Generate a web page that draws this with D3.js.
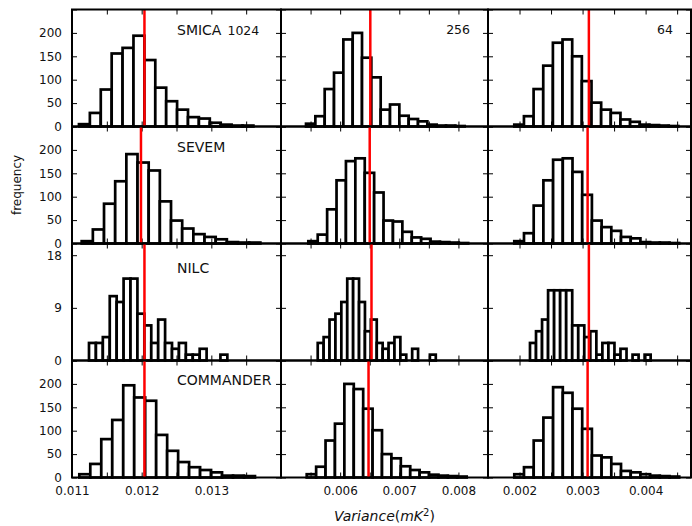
<!DOCTYPE html>
<html><head><meta charset="utf-8">
<script src="https://cdn.jsdelivr.net/npm/d3@7"></script>
<style>
body{margin:0;background:#fff}
svg{display:block}
text{font-family:"DejaVu Sans",sans-serif;fill:#111}
</style>
</head><body>
<svg id="chart" width="692" height="526"></svg>
<script>
// ---------- data ----------
const methods = ["SMICA", "SEVEM", "NILC", "COMMANDER"];
const resolutions = ["1024", "256", "64"];
const xDomains = [[0.011, 0.014], [0.005, 0.0085], [0.0015, 0.00472]];
const xTickLabelValues = [[0.011, 0.012, 0.013], [0.006, 0.007, 0.008], [0.002, 0.003, 0.004]];
const xTickStep = 0.0005;
const countDomain = [0, 250];
const countTicks = [0, 50, 100, 150, 200, 250];
const countTickLabels = [0, 50, 100, 150, 200];
const nilcDomain = [0, 20];
const nilcTicks = [0, 9, 18];

// histogram counts, one array per panel
const smica1024 = [5, 29, 79, 156, 168, 194, 142, 83, 54, 36, 20, 17, 8, 4, 2, 2];
const smica256  = [6, 22, 80, 115, 186, 200, 147, 105, 36, 47, 23, 16, 11, 4, 2, 2, 1];
const smica64   = [4, 22, 80, 130, 179, 186, 150, 97, 51, 36, 29, 15, 10, 4, 3, 2, 1];
const sevem1024 = [5, 30, 85, 133, 191, 173, 156, 90, 49, 32, 20, 14, 9, 3, 2, 2];
const sevem256  = [5, 19, 73, 135, 176, 182, 151, 109, 49, 47, 25, 13, 10, 4, 3, 2, 1];
const sevem64   = [5, 22, 81, 135, 179, 182, 153, 104, 49, 35, 27, 14, 11, 3, 2, 2, 1];
const nilc1024  = [3, 3, 4, 11, 10, 14, 14, 8, 6, 3, 7, 3, 2, 3, 1, 1, 2, 0, 0, 1];
const nilc256   = [3, 4, 7, 8, 10, 14, 14, 10, 5, 7, 3, 2, 3, 4, 1, 0, 2, 0, 0, 1];
const nilc64    = [3, 5, 7, 12, 12, 12, 12, 6, 6, 4, 5, 1, 3, 3, 1, 2, 0, 1, 0, 1];
const commander1024 = [7, 29, 82, 123, 197, 171, 164, 91, 57, 33, 22, 16, 11, 4, 4, 3];
const commander256  = [7, 23, 79, 115, 200, 189, 147, 101, 50, 41, 24, 16, 11, 6, 4, 3, 2];
const commander64   = [7, 22, 79, 128, 193, 181, 147, 104, 47, 43, 29, 14, 11, 7, 4, 3, 2];
const panelCounts = [
  [smica1024, smica256, smica64],
  [sevem1024, sevem256, sevem64],
  [nilc1024, nilc256, nilc64],
  [commander1024, commander256, commander64]
];
// first bin edge and bin width (mK^2) per panel
const binStarts = [
  [0.011100, 0.005423, 0.001917],
  [0.011139, 0.005462, 0.001917],
  [0.011244, 0.005621, 0.002166],
  [0.011105, 0.005435, 0.001917]
];
const binWidths = [
  [0.0001565, 0.0001578, 0.0001531],
  [0.0001603, 0.0001590, 0.0001539],
  [0.0000993, 0.0000998, 0.0000957],
  [0.0001576, 0.0001591, 0.0001539]
];
// observed (red line) variance per panel
const observed = [
  [0.01204, 0.00651, 0.00310],
  [0.01199, 0.00650, 0.00308],
  [0.01204, 0.00653, 0.00310],
  [0.01204, 0.00648, 0.00308]
];

// ---------- layout ----------
const colEdges = [72, 281, 488, 691];
const rowTop0 = 9.5, rowH = 117;
const titleDy = [20, 20, 24, 19];

const svg = d3.select("#chart");

function panel(r, c) {
  const x0 = colEdges[c], x1 = colEdges[c + 1];
  const y0 = rowTop0 + r * rowH, y1 = y0 + rowH;
  const isNilc = methods[r] === "NILC";
  const x = d3.scaleLinear().domain(xDomains[c]).range([x0, x1]);
  const y = d3.scaleLinear().domain(isNilc ? nilcDomain : countDomain).range([y1, y0]);
  const g = svg.append("g");

  // bars
  const counts = panelCounts[r][c];
  const s = binStarts[r][c], w = binWidths[r][c];
  const bins = counts.map((n, i) => ({ a: s + i * w, b: s + (i + 1) * w, n }));
  g.selectAll("rect.bar").data(bins.filter(d => d.n > 0)).join("rect")
    .attr("class", "bar")
    .attr("x", d => x(d.a))
    .attr("width", d => x(d.b) - x(d.a))
    .attr("y", d => y(d.n))
    .attr("height", d => y(0) - y(d.n))
    .attr("fill", "#fff")
    .attr("stroke", "#000")
    .attr("stroke-width", 2.7);

  // x ticks (every 0.0005, labels at 0.001 multiples on the bottom row)
  const xt = d3.range(Math.ceil(xDomains[c][0] / xTickStep - 1e-6), Math.floor(xDomains[c][1] / xTickStep + 1e-6) + 1)
    .map(k => +(k * xTickStep).toFixed(5));
  const isBottom = r === methods.length - 1;
  const labSet = new Set(xTickLabelValues[c].map(v => v.toFixed(4)));
  const xb = d3.axisBottom(x).tickValues(xt).tickSizeInner(-5).tickSizeOuter(0).tickPadding(9)
    .tickFormat(v => (isBottom && labSet.has(v.toFixed(4))) ? d3.format(".3f")(v) : "");
  const xtop = d3.axisTop(x).tickValues(xt).tickSizeInner(-5).tickSizeOuter(0).tickFormat("");
  g.append("g").attr("transform", `translate(0,${y1})`).call(xb).call(a => a.select(".domain").remove());
  g.append("g").attr("transform", `translate(0,${y0})`).call(xtop).call(a => a.select(".domain").remove());

  // y ticks
  const yTickVals = isNilc ? nilcTicks : countTicks;
  const yl = d3.axisLeft(y).tickValues(yTickVals).tickSizeInner(-5).tickSizeOuter(0).tickPadding(10)
    .tickFormat(v => (c === 0 && (isNilc || countTickLabels.includes(v))) ? String(v) : "");
  const yr = d3.axisRight(y).tickValues(yTickVals).tickSizeInner(-5).tickSizeOuter(0).tickFormat("");
  g.append("g").attr("transform", `translate(${x0},0)`).call(yl).call(a => a.select(".domain").remove());
  g.append("g").attr("transform", `translate(${x1},0)`).call(yr).call(a => a.select(".domain").remove());

  g.selectAll(".tick line").attr("stroke", "#000").attr("stroke-width", 1);
  g.selectAll(".tick text").style("font-size", "12px").style("font-family", '"DejaVu Sans",sans-serif').attr("fill", "#111");

  // observed value line
  g.append("line")
    .attr("x1", x(observed[r][c])).attr("x2", x(observed[r][c]))
    .attr("y1", y0).attr("y2", y1)
    .attr("stroke", "#ff0000").attr("stroke-width", 2.5);

  // frame
  g.append("rect").attr("x", x0).attr("y", y0).attr("width", x1 - x0).attr("height", y1 - y0)
    .attr("fill", "none").attr("stroke", "#000").attr("stroke-width", 2);

  // titles
  if (c === 0) {
    const t = g.append("text").attr("x", 177).attr("y", y0 + titleDy[r]).attr("dy", "0.36em");
    t.append("tspan").style("font-size", "14px").text(methods[r]);
    if (r === 0) t.append("tspan").attr("dx", 6).style("font-size", "12.5px").text(resolutions[0]);
  } else if (r === 0) {
    g.append("text").attr("x", x1 - 18).attr("y", y0 + titleDy[r]).attr("dy", "0.36em")
      .attr("text-anchor", "end").style("font-size", "12.5px").text(resolutions[c]);
  }
}

for (let r = 0; r < methods.length; r++)
  for (let c = 0; c < resolutions.length; c++) panel(r, c);

// axis labels
svg.append("text")
  .attr("transform", `translate(17,${rowTop0 + 1.5 * rowH}) rotate(-90)`)
  .attr("text-anchor", "middle").attr("dy", "0.36em")
  .style("font-size", "12px").text("frequency");

const xl = svg.append("text")
  .attr("x", (colEdges[1] + colEdges[2]) / 2).attr("y", 521)
  .attr("text-anchor", "middle").style("font-size", "14px");
xl.append("tspan").style("font-style", "italic").text("Variance");
xl.append("tspan").text("(");
xl.append("tspan").style("font-style", "italic").text("mK");
xl.append("tspan").attr("dy", -5).style("font-size", "10px").text("2");
xl.append("tspan").attr("dy", 5).text(")");
</script>
</body></html>
